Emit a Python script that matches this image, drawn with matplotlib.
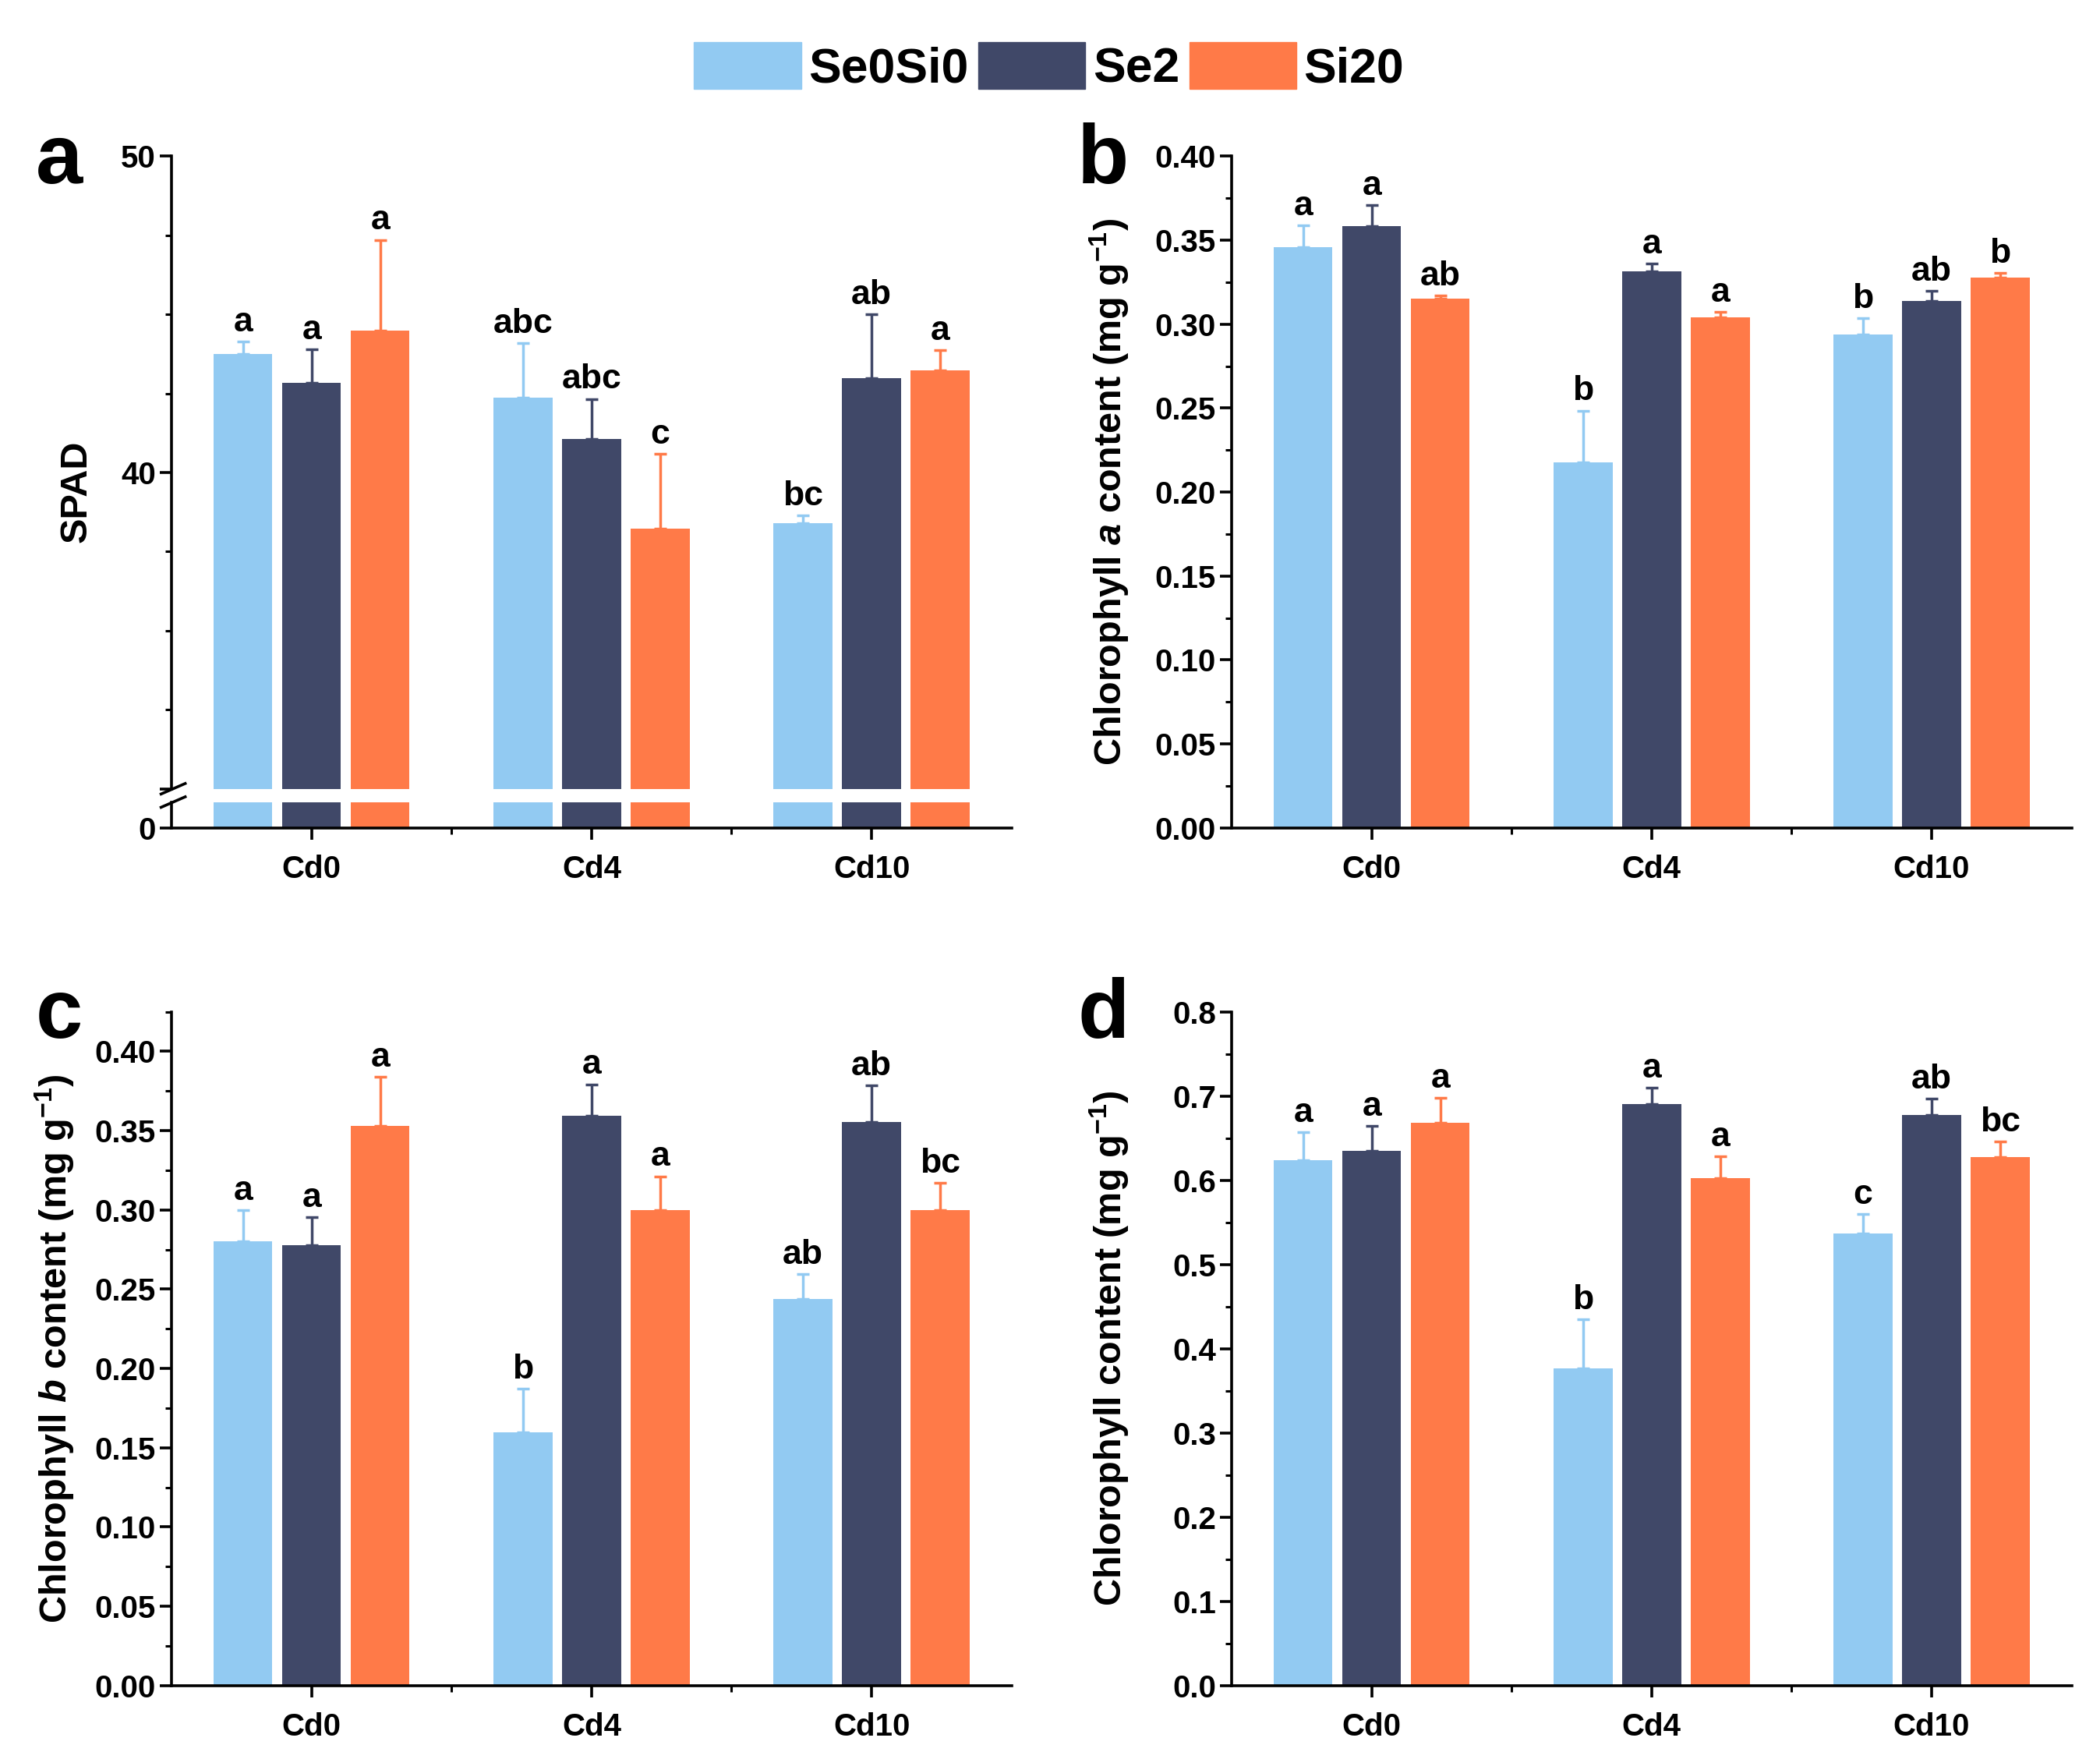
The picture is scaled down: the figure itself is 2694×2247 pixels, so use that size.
import matplotlib.pyplot as plt
from matplotlib.patches import Patch
from matplotlib.ticker import MultipleLocator, FixedLocator
import numpy as np

plt.rcParams['font.family'] = ['Liberation Sans', 'DejaVu Sans']
plt.rcParams['font.weight'] = 'bold'
plt.rcParams['mathtext.fontset'] = 'custom'
plt.rcParams['mathtext.rm'] = 'Liberation Sans:bold'
plt.rcParams['mathtext.it'] = 'Liberation Sans:italic:bold'
plt.rcParams['mathtext.bf'] = 'Liberation Sans:bold'

groups = ['Cd0', 'Cd4', 'Cd10']
treatments = ['Se0Si0', 'Se2', 'Si20']
colors = ['#92CAF2', '#404868', '#FF7A48']

# SPAD  (rows = treatments, cols = Cd0, Cd4, Cd10)
spad_mean = [[43.74, 42.36, 38.40], [42.83, 41.07, 42.99], [44.50, 38.22, 43.24]]
spad_err = [[0.40, 1.73, 0.24], [1.07, 1.26, 2.01], [2.86, 2.36, 0.63]]
spad_sig = [['a', 'abc', 'bc'], ['a', 'abc', 'ab'], ['a', 'c', 'a']]

# chlorophyll a
chla_mean = [[0.346, 0.2175, 0.294], [0.3585, 0.3315, 0.3137], [0.315, 0.304, 0.3276]]
chla_err = [[0.013, 0.031, 0.0095], [0.0125, 0.0045, 0.006], [0.002, 0.0033, 0.003]]
chla_sig = [['a', 'b', 'b'], ['a', 'a', 'ab'], ['ab', 'a', 'b']]

# chlorophyll b
chlb_mean = [[0.280, 0.1596, 0.2439], [0.2776, 0.3593, 0.3554], [0.3529, 0.2997, 0.300]]
chlb_err = [[0.020, 0.0276, 0.0154], [0.018, 0.020, 0.023], [0.031, 0.0215, 0.017]]
chlb_sig = [['a', 'b', 'ab'], ['a', 'a', 'ab'], ['a', 'a', 'bc']]

# total chlorophyll
chl_mean = [[0.624, 0.3765, 0.537], [0.635, 0.690, 0.677], [0.668, 0.6024, 0.627]]
chl_err = [[0.033, 0.058, 0.023], [0.0295, 0.020, 0.020], [0.030, 0.026, 0.019]]
chl_sig = [['a', 'b', 'c'], ['a', 'a', 'ab'], ['a', 'a', 'bc']]

W = 0.21      # bar width
OFF = 0.245   # offset between bars in a group
x = np.arange(len(groups))


def bars(ax, means, errs, sig=None):
    for i in range(3):
        xs = x + (i - 1) * OFF
        ax.bar(xs, means[i], W, color=colors[i], zorder=2)
        ax.errorbar(xs, means[i], yerr=[np.zeros(3), errs[i]], fmt='none',
                    ecolor=colors[i], elinewidth=2.5, capsize=6, capthick=2.5, zorder=3)
        if sig is not None:
            for j in range(3):
                ax.annotate(sig[i][j], (xs[j], means[i][j] + errs[i][j]),
                            xytext=(0, 3), textcoords='offset points',
                            ha='center', va='bottom', fontsize=32, fontweight='bold')


def style(ax, xaxis=True):
    for s in ['top', 'right']:
        ax.spines[s].set_visible(False)
    for s in ['left', 'bottom']:
        ax.spines[s].set_linewidth(2.6)
    ax.tick_params(which='major', direction='out', length=11, width=2.6, labelsize=29)
    ax.tick_params(which='minor', direction='out', length=6, width=2.2)
    ax.set_xlim(-0.5, 2.5)
    if xaxis:
        ax.set_xticks(x)
        ax.set_xticklabels(groups)
        ax.xaxis.set_minor_locator(FixedLocator([0.5, 1.5]))
        ax.tick_params(axis='x', pad=14)


def bold_ticks(ax):
    for t in ax.get_yticklabels() + ax.get_xticklabels():
        t.set_fontweight('bold')


fig = plt.figure(figsize=(26.94, 22.47), dpi=100)

L1, L2, AW = 0.0817, 0.5865, 0.400
TOP_B, H = 0.5275, 0.3833
BOT_B = 0.038
H_c = 0.3845

# ---- panel a (broken axis) ----
low_h = 0.0147
gap = 0.0076
ax_al = fig.add_axes([L1, TOP_B, AW, low_h])
ax_au = fig.add_axes([L1, TOP_B + low_h + gap, AW, H - low_h - gap])
bars(ax_al, spad_mean, spad_err)
bars(ax_au, spad_mean, spad_err, spad_sig)
style(ax_al)
style(ax_au, xaxis=False)
ax_al.set_ylim(0, 1)
ax_al.set_yticks([0])
ax_au.set_ylim(30, 50)
ax_au.set_yticks([30, 40, 50])
ax_au.set_yticklabels(['', '40', '50'])
ax_au.yaxis.set_minor_locator(MultipleLocator(2.5))
ax_au.spines['bottom'].set_visible(False)
ax_au.set_xticks([])
bold_ticks(ax_au)
bold_ticks(ax_al)
ax_au.set_ylabel('SPAD', fontsize=35, fontweight='bold')
ax_au.yaxis.set_label_coords(-0.092, 0.47)
# break marks on the y axis
for yb in [TOP_B + low_h, TOP_B + low_h + gap]:
    fig.add_artist(plt.Line2D([L1 - 0.005, L1 + 0.0065], [yb - 0.003, yb + 0.003],
                              color='black', lw=2.6))

# ---- panel b ----
ax_b = fig.add_axes([L2, TOP_B, AW, H])
bars(ax_b, chla_mean, chla_err, chla_sig)
style(ax_b)
ax_b.set_ylim(0, 0.40)
ax_b.yaxis.set_major_locator(MultipleLocator(0.05))
ax_b.yaxis.set_minor_locator(MultipleLocator(0.025))
ax_b.yaxis.set_major_formatter('{x:.2f}')
ax_b.set_ylabel(r'Chlorophyll $\mathit{a}$ content (mg g$^{-1}$)', fontsize=35,
                fontweight='bold')
ax_b.yaxis.set_label_coords(-0.12, 0.5)

# ---- panel c ----
ax_c = fig.add_axes([L1, BOT_B, AW, H_c])
bars(ax_c, chlb_mean, chlb_err, chlb_sig)
style(ax_c)
ax_c.set_ylim(0, 0.425)
ax_c.yaxis.set_major_locator(MultipleLocator(0.05))
ax_c.yaxis.set_minor_locator(MultipleLocator(0.025))
ax_c.yaxis.set_major_formatter('{x:.2f}')
ax_c.set_ylabel(r'Chlorophyll $\mathit{b}$ content (mg g$^{-1}$)', fontsize=35,
                fontweight='bold')
ax_c.yaxis.set_label_coords(-0.113, 0.5)

# ---- panel d ----
ax_d = fig.add_axes([L2, BOT_B, AW, H_c])
bars(ax_d, chl_mean, chl_err, chl_sig)
style(ax_d)
ax_d.set_ylim(0, 0.8)
ax_d.yaxis.set_major_locator(MultipleLocator(0.1))
ax_d.yaxis.set_minor_locator(MultipleLocator(0.05))
ax_d.yaxis.set_major_formatter('{x:.1f}')
ax_d.set_ylabel(r'Chlorophyll content (mg g$^{-1}$)', fontsize=35, fontweight='bold')
ax_d.yaxis.set_label_coords(-0.12, 0.5)

for a in [ax_b, ax_c, ax_d]:
    bold_ticks(a)

# panel letters
for lab, px, py in [('a', 0.017, 0.8954), ('b', 0.513, 0.8954),
                    ('c', 0.017, 0.4075), ('d', 0.513, 0.4075)]:
    fig.text(px, py, lab, fontsize=78, fontweight='bold', va='baseline')

handles = [Patch(color=c) for c in colors]
fig.legend(handles, treatments, loc='center', bbox_to_anchor=(0.4995, 0.9615), ncol=3,
           frameon=False, handlelength=2.2, handleheight=1.1,
           handletextpad=0.15, columnspacing=0.2, prop={'weight': 'bold', 'size': 45})

fig.savefig('out.png', dpi=100)
